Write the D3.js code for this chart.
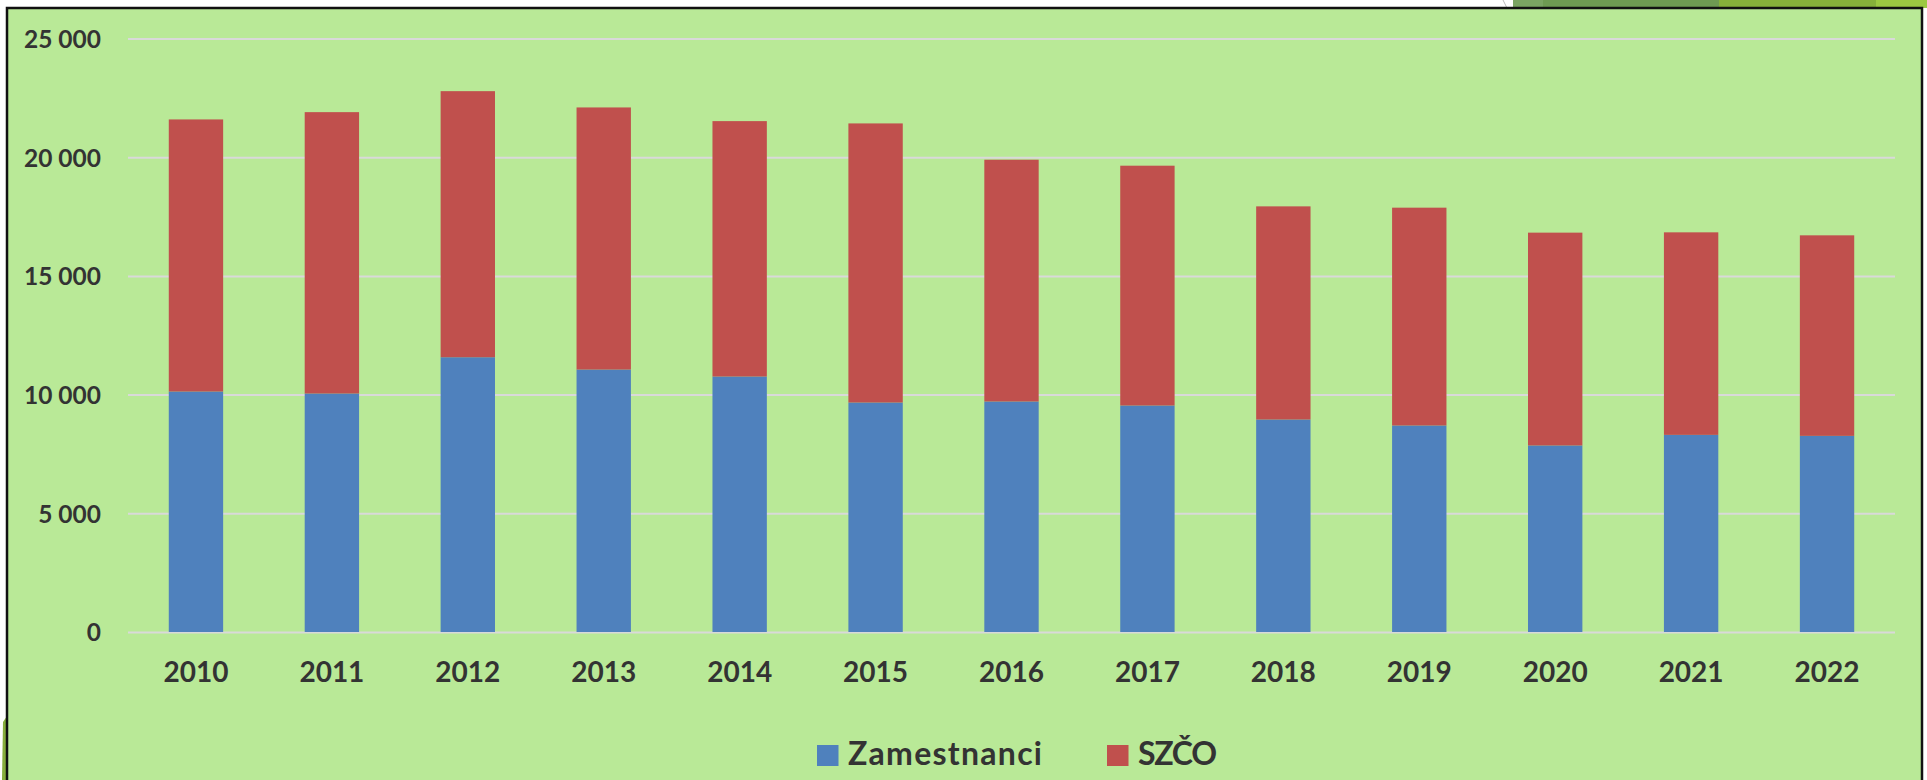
<!DOCTYPE html>
<html>
<head>
<meta charset="utf-8">
<script src="https://cdn.jsdelivr.net/npm/d3@7.9.0/dist/d3.min.js"></script>
<style>
  html, body { margin: 0; padding: 0; background: #fff; }
  svg { display: block; }
  text { font-family: Lato, "Open Sans", sans-serif; font-weight: 700; fill: #333; }
</style>
</head>
<body>
<svg id="chart" width="1927" height="780"></svg>
<script>
const years = ['2010', '2011', '2012', '2013', '2014', '2015', '2016', '2017', '2018', '2019', '2020', '2021', '2022'];
const zamestnanci = [10130, 10046, 11574, 11056, 10762, 9667, 9710, 9541, 8952, 8699, 7858, 8304, 8262];
const szco = [11461, 11852, 11208, 11040, 10758, 11756, 10184, 10101, 8977, 9175, 8964, 8531, 8447];
const seriesNames = ['Zamestnanci', 'SZČO'];
const seriesColors = ['#4f81bd', '#c0504d'];
const yTicks = [0, 5000, 10000, 15000, 20000, 25000];

const svg = d3.select('#chart');

// decorative bits of the slide behind the chart frame
const deco = [
  { x: 1513, w: 30, c: '#7aa462' },
  { x: 1543, w: 176, c: '#6e9a52' },
  { x: 1719, w: 157, c: '#86b13a' },
  { x: 1876, w: 51, c: '#9cc941' }
];
deco.forEach(d => {
  svg.append('rect').attr('x', d.x).attr('y', 0).attr('width', d.w).attr('height', 8).attr('fill', d.c);
});
svg.append('line').attr('x1', 1503).attr('y1', 0).attr('x2', 1507).attr('y2', 8)
  .attr('stroke', '#bbb').attr('stroke-width', 1);
svg.append('path').attr('d', 'M3,722 L7,716 L7,780 L2,780 Z').attr('fill', '#86ad3c');

// chart frame
svg.append('rect')
  .attr('x', 7).attr('y', 8).attr('width', 1915).attr('height', 790)
  .attr('fill', '#b9e997').attr('stroke', '#111').attr('stroke-width', 2.5);

const x = d3.scaleBand()
  .domain(years)
  .range([128, 1895])
  .paddingInner(0.6)
  .paddingOuter(0.3);

const y = d3.scaleLinear()
  .domain([0, 25000])
  .range([632, 38.5]);

const fmt = d3.formatLocale({ decimal: ',', thousands: ' ', grouping: [3], currency: ['', ''] }).format(',');

// grid
const yAxis = d3.axisLeft(y)
  .tickValues(yTicks)
  .tickSize(-(1895 - 128))
  .tickFormat(fmt)
  .tickPadding(27);

const gy = svg.append('g')
  .attr('transform', 'translate(128,0)')
  .call(yAxis);
gy.select('.domain').remove();
gy.selectAll('.tick line').attr('stroke', '#d9d9d9').attr('stroke-width', 2);
gy.selectAll('.tick text')
  .attr('font-size', 24.5)
  .attr('fill', '#333')
  .attr('dy', '0.36em');

// stacked bars
const table = years.map((yr, i) => ({ year: yr, Zamestnanci: zamestnanci[i], 'SZČO': szco[i] }));
const stacked = d3.stack().keys(seriesNames)(table);

svg.append('g')
  .selectAll('g')
  .data(stacked)
  .join('g')
  .attr('fill', (d, i) => seriesColors[i])
  .selectAll('rect')
  .data(d => d)
  .join('rect')
  .attr('x', d => x(d.data.year))
  .attr('y', d => y(d[1]))
  .attr('width', x.bandwidth())
  .attr('height', d => y(d[0]) - y(d[1]));

// x axis labels
const xAxis = d3.axisBottom(x).tickSize(0).tickPadding(0);
const gx = svg.append('g')
  .attr('transform', 'translate(0,682)')
  .call(xAxis);
gx.select('.domain').remove();
gx.selectAll('.tick text')
  .attr('font-size', 28)
  .attr('fill', '#333')
  .attr('dy', 0);

// legend
const legendItems = [
  { name: seriesNames[0], color: seriesColors[0], x: 817, len: 194 },
  { name: seriesNames[1], color: seriesColors[1], x: 1107, len: 79 }
];
const legend = svg.append('g');
legendItems.forEach(d => {
  legend.append('rect')
    .attr('x', d.x).attr('y', 745)
    .attr('width', 21.5).attr('height', 21)
    .attr('fill', d.color);
  legend.append('text')
    .attr('x', d.x + 31).attr('y', 765)
    .attr('font-size', 32)
    .attr('textLength', d.len)
    .text(d.name);
});
</script>
</body>
</html>
